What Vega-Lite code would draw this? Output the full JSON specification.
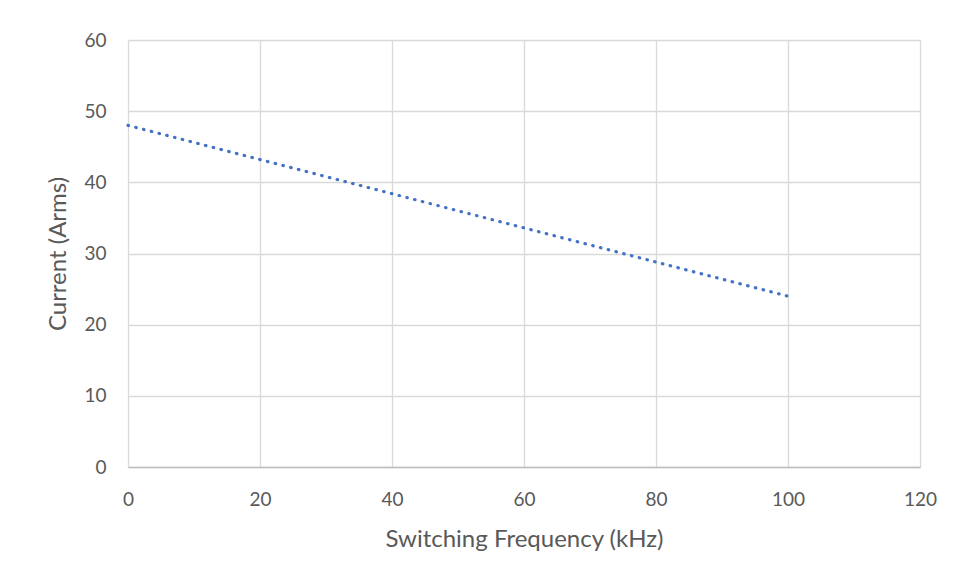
{
  "$schema": "https://vega.github.io/schema/vega-lite/v6.json",
  "autosize": {"type": "none"},
  "padding": {"left": 128, "top": 40, "right": 38, "bottom": 114},
  "width": 792,
  "height": 427,
  "background": "white",
  "config": {
    "view": {"stroke": null},
    "font": "Lato",
    "axis": {
      "labelFont": "Lato",
      "titleFont": "Lato",
      "labelColor": "#595959",
      "titleColor": "#595959",
      "labelFontSize": 19,
      "titleFontSize": 24,
      "titleFontWeight": "normal",
      "labelFlush": false,
      "grid": true,
      "gridColor": "#d9d9d9",
      "gridWidth": 1.3,
      "ticks": false,
      "domain": false
    }
  },
  "data": {
    "values": [
      {"freq": 0, "current": 48},
      {"freq": 100, "current": 24}
    ]
  },
  "mark": {
    "type": "line",
    "color": "#4472C4",
    "strokeWidth": 3.2,
    "strokeCap": "round",
    "strokeDash": [0.5, 7.5]
  },
  "encoding": {
    "x": {
      "field": "freq",
      "type": "quantitative",
      "scale": {"domain": [0, 120], "nice": false, "zero": true},
      "axis": {
        "values": [0, 20, 40, 60, 80, 100, 120],
        "title": "Switching Frequency (kHz)",
        "domain": true,
        "domainColor": "#bfbfbf",
        "domainWidth": 1.3,
        "labelPadding": 23,
        "titlePadding": 18
      }
    },
    "y": {
      "field": "current",
      "type": "quantitative",
      "scale": {"domain": [0, 60], "nice": false},
      "axis": {
        "values": [0, 10, 20, 30, 40, 50, 60],
        "title": "Current (Arms)",
        "labelPadding": 22,
        "titlePadding": 13
      }
    }
  }
}
